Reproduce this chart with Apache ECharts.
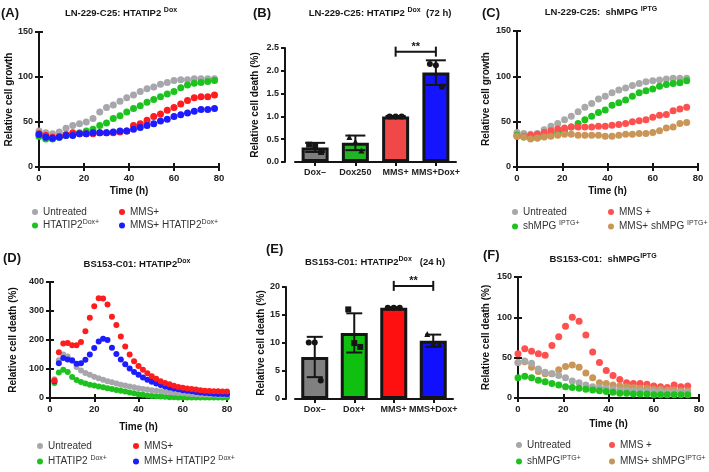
<!DOCTYPE html>
<html>
<head>
<meta charset="utf-8">
<script src="https://cdn.jsdelivr.net/npm/echarts@6/dist/echarts.min.js"></script>
<style>
html, body { margin: 0; padding: 0; background: #fff; }
#main { width: 709px; height: 472px; }
</style>
</head>
<body>
<div id="main"></div>
<script>
var FONT = '"Liberation Sans", Arial, sans-serif';
var INK = '#151515';

// ---- data ----
// (A) LN-229-C25 HTATIP2 Dox, relative cell growth
var timeA = [0,3,6,9,12,15,18,21,24,27,30,33,36,39,42,45,48,51,54,57,60,63,66,69,72,75,78];
var aUntreated = [40,38,37,39,43,46,48,50,54,61,66,69,73,77,80,84,87,89,92,94,96,97,97,98,98,98,98];
var aDox       = [34,31,31,33,35,37,38,40,42,46,49,54,57,61,65,68,72,75,78,81,84,88,91,93,94,95,96];
var aMMS       = [37,35,33,34,36,38,37,37,37,38,38,38,39,40,46,48,52,56,59,63,66,70,74,77,78,78,80];
var aMMSDox    = [36,33,32,33,35,35,37,37,38,38,38,39,40,40,42,44,46,48,51,53,56,58,60,62,64,64,65];

// (B) 72 h relative cell death
var catsB = ['Dox\u2013', 'Dox250', 'MMS+', 'MMS+Dox+'];
var meanB = [0.32, 0.42, 1.0, 1.96];
var sdB = [0.1, 0.16, 0.01, 0.27];
var repsB = [[0.38, 0.36, 0.22], [0.55, 0.45, 0.25], [1.0, 1.0, 1.0], [2.15, 2.12, 1.65]];
var sigB = [2, 3, 2.42];

// (C) LN-229-C25 shMPG IPTG, relative cell growth
var timeC = [0,3,6,9,12,15,18,21,24,27,30,33,36,39,42,45,48,51,54,57,60,63,66,69,72,75];
var cUntreated = [38,37,36,37,41,45,48,52,56,61,66,70,75,78,82,85,87,90,92,94,95,96,97,98,98,98];
var cIPTG      = [35,33,32,32,34,36,38,40,44,48,52,56,60,63,68,71,74,78,82,84,86,89,91,92,93,95];
var cMMS       = [34,34,35,36,38,40,42,43,44,44,44,44,45,45,46,47,48,50,51,52,55,57,58,62,64,66];
var cMMSIPTG   = [34,33,31,32,33,34,35,36,36,35,35,35,35,34,34,35,36,36,37,37,38,40,43,44,48,49];

// (D) BS153-C01 HTATIP2 Dox, relative cell death
var timeD = [2,4,6,8,10,12,14,16,18,20,22,24,26,28,30,32,34,36,38,40,42,44,46,48,50,52,54,56,58,60,62,64,66,68,70,72,74,76,78,80];
var dUntreated = [65,130,150,143,128,107,95,86,80,73,68,63,58,54,50,46,43,40,37,34,31,29,27,25,23,21,20,18,17,16,15,14,13,12,12,11,11,10,10,10];
var dDox       = [52,88,97,90,72,62,55,50,46,43,40,37,34,31,28,25,22,19,16,13,11,9,7,6,5,4,3,3,2,2,2,2,2,2,2,2,2,2,2,2];
var dMMS       = [60,158,188,190,182,182,193,230,277,316,344,343,322,280,252,212,178,150,127,110,97,85,75,66,58,52,47,42,38,35,33,31,29,27,25,24,23,23,22,22];
var dMMSDox    = [58,120,138,133,130,118,120,132,150,172,195,204,200,173,152,133,116,102,90,80,71,63,56,50,45,40,36,33,30,27,25,23,21,19,17,16,15,14,14,13];

// (E) 24 h relative cell death
var catsE = ['Dox\u2013', 'Dox+', 'MMS+', 'MMS+Dox+'];
var meanE = [7.5, 11.8, 16.3, 10.4];
var sdE = [3.6, 3.5, 0.1, 1.1];
var repsE = [[10.1, 10.1, 3.3], [16.0, 10.0, 9.3], [16.3, 16.3, 16.3], [11.6, 10.0, 9.8]];
var sigE = [2, 3, 20.2];

// (F) BS153-C01 shMPG IPTG, relative cell death
var timeF = [0,3,6,9,12,15,18,21,24,27,30,33,36,39,42,45,48,51,54,57,60,63,66,69,72,75];
var fUntreated = [44,46,43,36,32,30,28,25,21,19,16,14,13,12,11,10,10,9,9,8,8,8,7,7,7,7];
var fIPTG      = [25,27,25,22,20,18,16,14,13,12,11,10,9,8,7,6,6,5,5,5,4,4,4,4,4,4];
var fMMS       = [55,61,58,55,53,65,76,89,100,95,78,57,44,34,28,23,19,18,18,17,15,14,13,16,14,15];
var fMMSIPTG   = [44,45,38,33,30,30,35,39,41,38,31,25,19,18,16,15,14,13,12,12,11,11,10,10,9,9];

// ---- styles ----
var C_GRAY = '#a6a6ac', C_GREEN = '#1ec21e', C_RED = '#ff1c1c', C_BLUE = '#1c1cff';
var C_RED2 = '#ff5050', C_TAN = '#c99657', C_GRAY2 = '#a9a9a9';
var barColorsB = ['#7d7d7d', '#22b422', '#f04848', '#1414ff'];
var barColorsE = ['#808080', '#10c010', '#ff1010', '#1010ff'];
var symB = ['rect', 'triangle', 'circle', 'circle'];
var symE = ['circle', 'rect', 'circle', 'triangle'];

var myChart = echarts.init(document.getElementById('main'));

var axisLineStyle = {show: true, lineStyle: {color: INK, width: 2}};
var axisTickStyle = {show: true, length: 4, lineStyle: {color: INK, width: 2}};
var labelStyle = {color: '#222', fontSize: 9.5, fontWeight: 'bold', fontFamily: FONT, margin: 6};
var nameStyle = {color: '#111', fontSize: 10, fontWeight: 'bold', fontFamily: FONT};

function timeAxis(grid, gap, top) {
    if (top) {
        return {type: 'value', gridIndex: grid, position: 'top', min: 0, max: 80, interval: 20,
            axisLine: axisLineStyle, axisTick: axisTickStyle, axisLabel: {show: false}, splitLine: {show: false}};
    }
    return {type: 'value', gridIndex: grid, min: 0, max: 80, interval: 20,
        name: 'Time (h)', nameLocation: 'middle', nameGap: gap, nameTextStyle: nameStyle,
        axisLine: axisLineStyle, axisTick: axisTickStyle, axisLabel: labelStyle, splitLine: {show: false}};
}

function valueAxis(grid, max, interval, name, gap, right) {
    if (right) {
        return {type: 'value', gridIndex: grid, position: 'right', min: 0, max: max, interval: interval,
            axisLine: axisLineStyle, axisTick: axisTickStyle, axisLabel: {show: false}, splitLine: {show: false}};
    }
    return {type: 'value', gridIndex: grid, min: 0, max: max, interval: interval,
        name: name, nameLocation: 'middle', nameGap: gap, nameTextStyle: nameStyle,
        axisLine: axisLineStyle, axisTick: axisTickStyle,
        axisLabel: Object.assign({}, labelStyle, {fontSize: 9}), splitLine: {show: false}};
}

function catAxis(grid, cats) {
    return {type: 'category', gridIndex: grid, data: cats,
        axisLine: axisLineStyle, axisTick: {show: true, alignWithLabel: true, length: 4, lineStyle: {color: INK, width: 2}},
        axisLabel: {color: '#222', fontSize: 9, fontWeight: 'bold', fontFamily: FONT, margin: 6, interval: 0},
        splitLine: {show: false}};
}

function dots(name, color, axis, times, vals, size) {
    return {
        type: 'scatter', name: name, xAxisIndex: axis, yAxisIndex: axis,
        symbol: 'circle', symbolSize: size, itemStyle: {color: color, opacity: 1},
        data: times.map(function (t, i) { return [t, vals[i]]; })
    };
}

function bars(axis, means, colors) {
    return {
        type: 'bar', name: 'bar' + axis, xAxisIndex: axis, yAxisIndex: axis, barWidth: 27,
        itemStyle: {borderColor: INK, borderWidth: 3},
        data: means.map(function (v, i) { return {value: v, itemStyle: {color: colors[i]}}; })
    };
}

function errorBars(axis, means, sds, half) {
    return {
        type: 'custom', name: 'err' + axis, xAxisIndex: axis, yAxisIndex: axis, z: 4,
        encode: {x: 0, y: [1, 2]},
        data: means.map(function (m, i) { return [i, m - sds[i], m + sds[i]]; }),
        renderItem: function (params, api) {
            var lo = api.coord([api.value(0), api.value(1)]);
            var hi = api.coord([api.value(0), api.value(2)]);
            var st = {stroke: INK, lineWidth: 2};
            return {type: 'group', children: [
                {type: 'line', shape: {x1: lo[0], y1: lo[1], x2: hi[0], y2: hi[1]}, style: st},
                {type: 'line', shape: {x1: hi[0] - half, y1: hi[1], x2: hi[0] + half, y2: hi[1]}, style: st},
                {type: 'line', shape: {x1: lo[0] - half, y1: lo[1], x2: lo[0] + half, y2: lo[1]}, style: st}
            ]};
        }
    };
}

function replicates(axis, reps, symbols) {
    var data = [];
    reps.forEach(function (r, i) {
        r.forEach(function (v, j) {
            data.push({value: [i, v], symbol: symbols[i], symbolOffset: [(j - 1) * 6, 0]});
        });
    });
    return {type: 'scatter', name: 'reps' + axis, xAxisIndex: axis, yAxisIndex: axis, z: 5,
        symbolSize: 6, itemStyle: {color: INK, opacity: 1}, data: data};
}

function sigBracket(axis, sig) {
    return {
        type: 'custom', name: 'sig' + axis, xAxisIndex: axis, yAxisIndex: axis, z: 5,
        encode: {x: [0, 1], y: 2},
        data: [sig],
        renderItem: function (params, api) {
            var a = api.coord([api.value(0), api.value(2)]);
            var b = api.coord([api.value(1), api.value(2)]);
            var st = {stroke: INK, lineWidth: 2};
            return {type: 'group', children: [
                {type: 'line', shape: {x1: a[0], y1: a[1], x2: b[0], y2: b[1]}, style: st},
                {type: 'line', shape: {x1: a[0], y1: a[1] - 5, x2: a[0], y2: a[1] + 5}, style: st},
                {type: 'line', shape: {x1: b[0], y1: b[1] - 5, x2: b[0], y2: b[1] + 5}, style: st},
                {type: 'text', style: {text: '**', x: (a[0] + b[0]) / 2, y: a[1] + 1,
                    align: 'center', verticalAlign: 'bottom', textAlign: 'center', textVerticalAlign: 'bottom',
                    font: 'bold 11px ' + FONT, fill: INK}}
            ]};
        }
    };
}

// legend labels with superscripts
function legendFmt(name) {
    var m = name.match(/^(.*?)(Dox\+|IPTG\+)$/);
    if (m) return '{n|' + m[1] + '}{s|' + m[2] + '}';
    return '{n|' + name + '}';
}
function legendItem(name, left, rowY) {
    var hasSup = /(Dox\+|IPTG\+)$/.test(name);
    return {
        data: [name], left: left, top: rowY - (hasSup ? 8 : 6), padding: 0, icon: 'circle',
        itemWidth: 6, itemHeight: 6, selectedMode: false, formatter: legendFmt,
        textStyle: {color: '#333', fontFamily: FONT, fontSize: 10, rich: {
            n: {fontSize: 10, fontFamily: FONT, color: '#333'},
            s: {fontSize: 7, fontFamily: FONT, color: '#333', padding: [0, 0, 6, 0]}
        }}
    };
}

function panelLabel(text, x, y) {
    return {type: 'text', x: x, y: y, style: {text: text, font: 'bold 13px ' + FONT, fill: INK,
        verticalAlign: 'middle', textVerticalAlign: 'middle'}};
}
function panelTitle(text, x, y) {
    return {type: 'text', x: x, y: y, style: {text: text, fill: INK,
        align: 'center', verticalAlign: 'middle', textAlign: 'center', textVerticalAlign: 'middle',
        rich: {
            t: {fontSize: 9.5, fontWeight: 'bold', fontFamily: FONT, fill: INK},
            s: {fontSize: 7, fontWeight: 'bold', fontFamily: FONT, fill: INK, padding: [0, 0, 6, 0]}
        }}};
}

var option = {
    animation: false,
    textStyle: {fontFamily: FONT},
    grid: [
        {left: 39, top: 32, width: 180, height: 135, outerBoundsMode: 'none'},   // A
        {left: 295, top: 48, width: 161, height: 114, outerBoundsMode: 'none'},  // B
        {left: 517, top: 31, width: 181, height: 136, outerBoundsMode: 'none'},  // C
        {left: 50, top: 282, width: 177, height: 116, outerBoundsMode: 'none'},  // D
        {left: 295, top: 287, width: 158, height: 112, outerBoundsMode: 'none'}, // E
        {left: 518, top: 277, width: 181, height: 121, outerBoundsMode: 'none'}  // F
    ],
    xAxis: [
        timeAxis(0, 19), timeAxis(0, 0, true),
        catAxis(1, catsB),
        timeAxis(2, 19), timeAxis(2, 0, true),
        timeAxis(3, 24), timeAxis(3, 0, true),
        catAxis(4, catsE),
        timeAxis(5, 21), timeAxis(5, 0, true)
    ],
    yAxis: [
        valueAxis(0, 150, 50, 'Relative cell growth', 23), valueAxis(0, 150, 50, '', 0, true),
        Object.assign(valueAxis(1, 2.5, 0.5, 'Relative cell death (%)', 25), {offset: 10,
            axisLabel: Object.assign({}, labelStyle, {fontSize: 9, formatter: function (v) { return v.toFixed(1); }})}),
        valueAxis(2, 150, 50, 'Relative cell growth', 26), valueAxis(2, 150, 50, '', 0, true),
        valueAxis(3, 400, 100, 'Relative cell death (%)', 32), valueAxis(3, 400, 100, '', 0, true),
        Object.assign(valueAxis(4, 20, 5, 'Relative cell death (%)', 16), {offset: 9}),
        valueAxis(5, 150, 50, 'Relative cell death (%)', 27), valueAxis(5, 150, 50, '', 0, true)
    ],
    legend: [
        legendItem('Untreated', 32, 213), legendItem('MMS+', 119, 213),
        legendItem('HTATIP2Dox+', 32, 227), legendItem('MMS+ HTATIP2Dox+', 119, 227),
        legendItem('Untreated', 512, 213), legendItem('MMS +', 608, 213),
        legendItem('shMPG IPTG+', 512, 228), legendItem('MMS+ shMPG IPTG+', 608, 228),
        legendItem('Untreated', 37, 447), legendItem('MMS+', 133, 447),
        legendItem('HTATIP2 Dox+', 37, 463), legendItem('MMS+ HTATIP2 Dox+', 133, 463),
        legendItem('Untreated', 516, 446), legendItem('MMS +', 609, 446),
        legendItem('shMPGIPTG+', 516, 463), legendItem('MMS+ shMPGIPTG+', 609, 463)
    ],
    graphic: [
        panelLabel('(A)', 1, 13), panelTitle('{t|LN-229-C25: HTATIP2 }{s|Dox}', 121, 13),
        panelLabel('(B)', 253, 13), panelTitle('{t|LN-229-C25: HTATIP2 }{s|Dox}{t|  (72 h)}', 380, 13),
        panelLabel('(C)', 482, 13), panelTitle('{t|LN-229-C25:  shMPG }{s|IPTG}', 601, 12),
        panelLabel('(D)', 3, 258), panelTitle('{t|BS153-C01: HTATIP2}{s|Dox}', 137, 264),
        panelLabel('(E)', 266, 249), panelTitle('{t|BS153-C01: HTATIP2}{s|Dox}{t|   (24 h)}', 375, 262),
        panelLabel('(F)', 483, 255), panelTitle('{t|BS153-C01:  shMPG}{s|IPTG}', 603, 259)
    ],
    series: [
        // A
        dots('Untreated', C_GRAY, 0, timeA, aUntreated, 7),
        dots('HTATIP2Dox+', C_GREEN, 0, timeA, aDox, 7),
        dots('MMS+', C_RED, 0, timeA, aMMS, 7),
        dots('MMS+ HTATIP2Dox+', C_BLUE, 0, timeA, aMMSDox, 7),
        // B
        bars(2, meanB, barColorsB),
        errorBars(2, meanB, sdB, 10),
        replicates(2, repsB, symB),
        sigBracket(2, sigB),
        // C
        dots('Untreated', C_GRAY2, 3, timeC, cUntreated, 7),
        dots('shMPG IPTG+', C_GREEN, 3, timeC, cIPTG, 7),
        dots('MMS +', C_RED2, 3, timeC, cMMS, 7),
        dots('MMS+ shMPG IPTG+', C_TAN, 3, timeC, cMMSIPTG, 7),
        // D
        dots('HTATIP2 Dox+', C_GREEN, 5, timeD, dDox, 6),
        dots('Untreated', C_GRAY, 5, timeD, dUntreated, 6),
        dots('MMS+ HTATIP2 Dox+', C_BLUE, 5, timeD, dMMSDox, 6),
        dots('MMS+', C_RED, 5, timeD, dMMS, 6),
        // E
        bars(7, meanE, barColorsE),
        errorBars(7, meanE, sdE, 8),
        replicates(7, repsE, symE),
        sigBracket(7, sigE),
        // F
        dots('MMS +', C_RED2, 8, timeF, fMMS, 7),
        dots('MMS+ shMPGIPTG+', C_TAN, 8, timeF, fMMSIPTG, 7),
        dots('Untreated', C_GRAY2, 8, timeF, fUntreated, 7),
        dots('shMPGIPTG+', C_GREEN, 8, timeF, fIPTG, 7)
    ]
};

myChart.setOption(option);
</script>
</body>
</html>
